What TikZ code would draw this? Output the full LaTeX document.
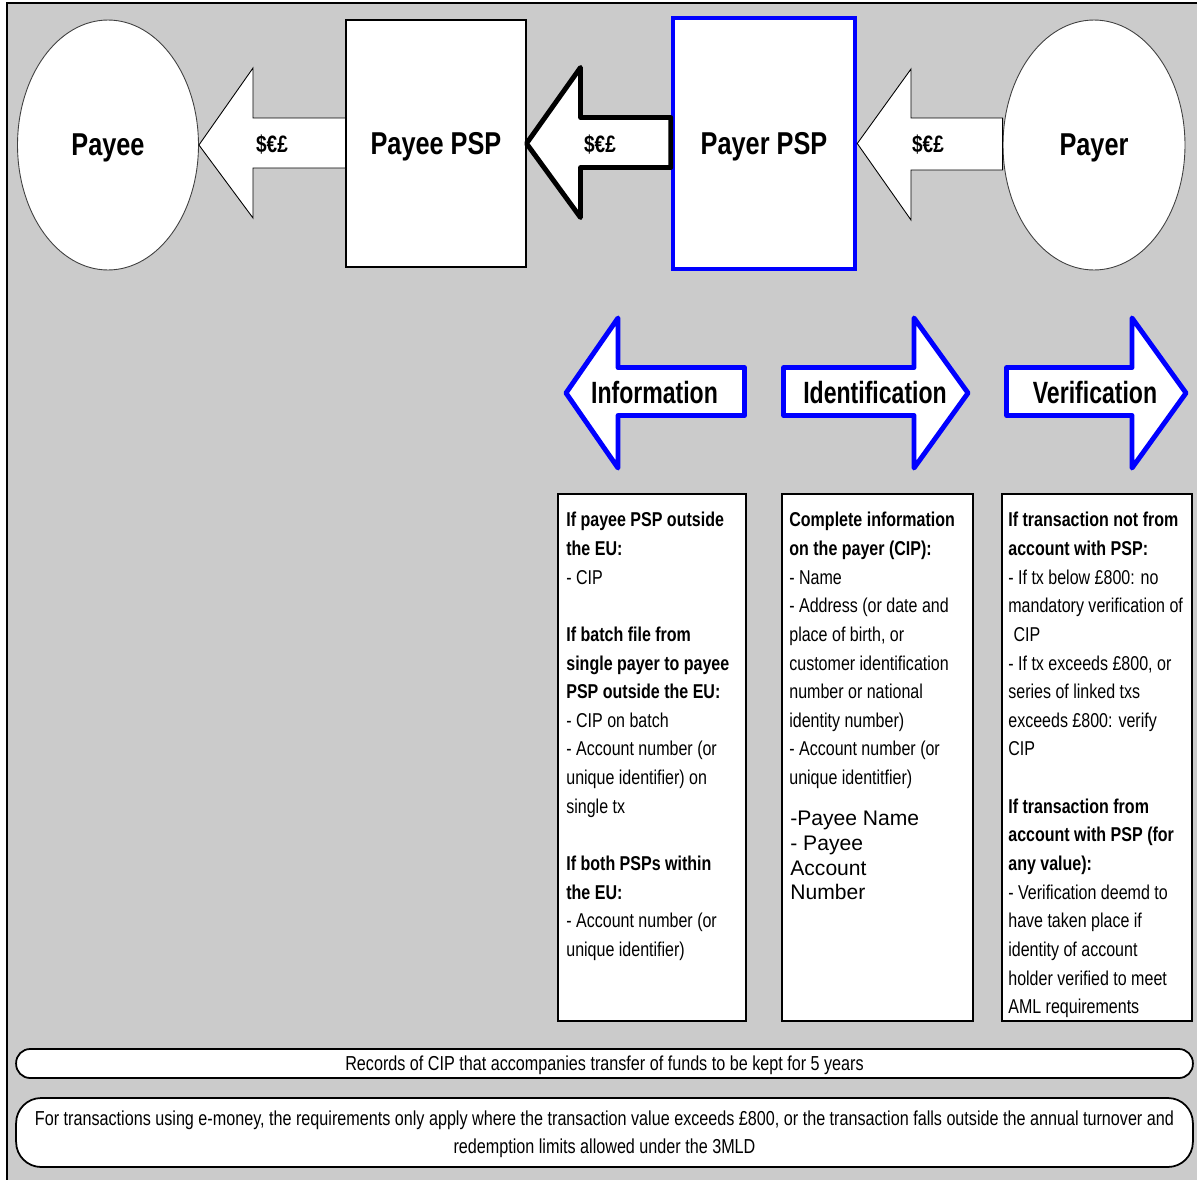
\documentclass[tikz,border=0pt]{standalone}
\usepackage{fontspec}
\setmainfont{Liberation Sans}[FakeStretch=0.8]
\newfontfamily\plainsf{Liberation Sans}
\newfontfamily\tallsf{Liberation Sans}[FakeStretch=0.75]
\usetikzlibrary{positioning,calc,shapes.geometric}
\definecolor{panel}{RGB}{203,203,203}
\newcommand*{\gap}{\\[16.3pt]}

\tikzset{
  party/.style={draw=black!75,fill=white,ellipse,line width=0.5pt,
    minimum width=3.62cm,minimum height=5cm,text depth=0pt,
    font=\fontsize{18}{20}\selectfont\bfseries},
  psp/.style={draw,fill=white,rectangle,line width=0.6pt,
    minimum width=3.6cm,minimum height=4.94cm,text depth=0pt,
    font=\fontsize{18}{20}\selectfont\bfseries},
  cashflow/.style={draw,fill=white,line width=0.5pt},
  cash/.style={font=\fontsize{13.5}{15}\selectfont\bfseries},
  duty/.style={draw=blue,fill=white,line width=2.8pt,line join=round},
  dutylabel/.style={font=\tallsf\fontsize{17.5}{19}\selectfont\bfseries},
  rulebox/.style={draw,fill=white,line width=0.9pt,minimum height=10.54cm},
  ruletext/.style={anchor=north west,inner sep=0pt,align=left,
    font=\fontsize{11.4}{16.3}\selectfont},
  note/.style={draw,fill=white,line width=1pt,minimum width=23.54cm,
    align=center,text depth=0pt,font=\fontsize{11.5}{16}\selectfont}
}

\begin{document}
\begin{tikzpicture}[x=0.02cm,y=-0.02cm]
\useasboundingbox (0,0) rectangle (1197,1180);
% grey panel with its top and left edge
\fill[panel] (7,3) rectangle (1197,1180);
\draw[line width=0.9pt] (7,1180) -- (7,3) -- (1197,3);

% the four parties of the transfer
\node[party] (payee) at (108,145) {Payee};
\node[psp] (payeepsp) at (436,143.5) {Payee PSP};
\node[psp,draw=blue,line width=2.6pt,minimum width=3.64cm,minimum height=5.02cm]
  (payerpsp) at (764,143.5) {Payer PSP};
\node[party,minimum width=3.64cm] (payer) at (1094,145) {Payer};

% money flows from right to left
\draw[cashflow] (payeepsp.west |- 0,118) -- (253,118) -- (253,68)
  -- (payee.east) -- (253,218) -- (253,168) -- (payeepsp.west |- 0,168) -- cycle;
\node[cash] (cash1) at (272,145) {\$€£};
\draw[cashflow,line width=2.8pt,line join=round]
  (payerpsp.west |- 0,117.5) -- (580.5,117.5) -- (580.5,67.5)
  -- (payeepsp.east) -- (580.5,217.5) -- (580.5,167.5)
  -- (payerpsp.west |- 0,167.5) -- cycle;
\node[cash] (cash2) at (600,145) {\$€£};
\draw[cashflow] (payer.west |- 0,118) -- (911,118) -- (911,69)
  -- (payerpsp.east) -- (911,220) -- (911,170) -- (payer.west |- 0,170) -- cycle;
\node[cash] (cash3) at (928,145) {\$€£};

% duties of the payer PSP
\draw[duty] (744.5,367.5) -- (618,367.5) -- (618,318) -- (566,393)
  -- (618,468) -- (618,415.5) -- (744.5,415.5) -- cycle;
\node[dutylabel] (info) at (654.5,393) {Information};
\draw[duty] (783.5,367.5) -- (914,367.5) -- (914,318) -- (968,393)
  -- (914,468) -- (914,415.5) -- (783.5,415.5) -- cycle;
\node[dutylabel] (ident) at (875,393) {Identification};
\draw[duty] (1006.5,367.5) -- (1132,367.5) -- (1132,318) -- (1186,393)
  -- (1132,468) -- (1132,415.5) -- (1006.5,415.5) -- cycle;
\node[dutylabel] (verif) at (1095,393) {Verification};

% what each duty asks for
\node[rulebox,minimum width=3.76cm] (infobox) at (652,757.5) {};
\node[ruletext] (infotext) at (566,512) {%
  \textbf{If payee PSP outside}\\
  \textbf{the EU:}\\
  - CIP\gap
  \textbf{If batch file from}\\
  \textbf{single payer to payee}\\
  \textbf{PSP outside the EU:}\\
  - CIP on batch\\
  - Account number (or\\
  unique identifier) on\\
  single tx\gap
  \textbf{If both PSPs within}\\
  \textbf{the EU:}\\
  - Account number (or\\
  unique identifier)};

\node[rulebox,minimum width=3.82cm] (identbox) at (877.5,757.5) {};
\node[ruletext] (identtext) at (789,512) {%
  \textbf{Complete information}\\
  \textbf{on the payer (CIP):}\\
  - Name\\
  - Address (or date and\\
  place of birth, or\\
  customer identification\\
  number or national\\
  identity number)\\
  - Account number (or\\
  unique identitfier)};
\node[ruletext,font=\plainsf\fontsize{12}{14}\selectfont] (payeetext)
  at (790,811) {-Payee Name\\
  - Payee\\
  Account\\
  Number};

\node[rulebox,minimum width=3.8cm] (verifbox) at (1097,757.5) {};
\node[ruletext] (veriftext) at (1008,512) {%
  \textbf{If transaction not from}\\
  \textbf{account with PSP:}\\
  - If tx below £800: no\\
  mandatory verification of\\
  \hspace{3pt}CIP\\
  - If tx exceeds £800, or\\
  series of linked txs\\
  exceeds £800: verify\\
  CIP\gap
  \textbf{If transaction from}\\
  \textbf{account with PSP (for}\\
  \textbf{any value):}\\
  - Verification deemd to\\
  have taken place if\\
  identity of account\\
  holder verified to meet\\
  AML requirements};

% notes across the bottom
\node[note,minimum height=0.58cm,rounded corners=0.28cm] (records) at (604.5,1063.5)
  {Records of CIP that accompanies transfer of funds to be kept for 5 years};
\node[note,minimum height=1.38cm,rounded corners=0.5cm] (emoney) at (604.5,1132.5)
  {For transactions using e-money, the requirements only apply where the transaction value exceeds £800, or the transaction falls outside the annual turnover and\\
  redemption limits allowed under the 3MLD};
\end{tikzpicture}
\end{document}
